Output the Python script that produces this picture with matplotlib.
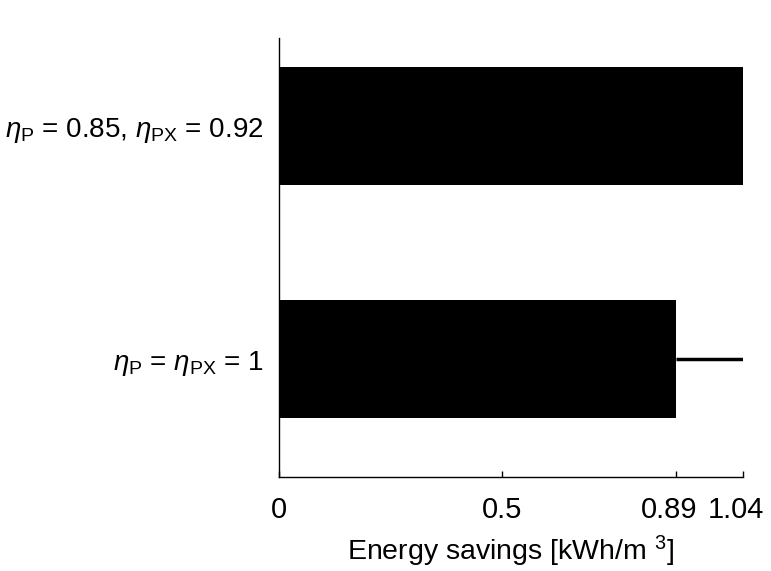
import matplotlib
matplotlib.use("Agg")
import matplotlib.pyplot as plt
from matplotlib.transforms import ScaledTranslation

categories = [r"$\eta_{\rm P}$ = $\eta_{\rm PX}$ = 1", r"$\eta_{\rm P}$ = 0.85, $\eta_{\rm PX}$ = 0.92"]
savings = [0.89, 1.04]
ideal_upper = 1.04
xticks = [0, 0.5, 0.89, 1.04]
xticklabels = ["0", "0.5", "0.89", "1.04"]

plt.rcParams["font.family"] = ["Liberation Sans", "DejaVu Sans"]
plt.rcParams["mathtext.fontset"] = "custom"
plt.rcParams["mathtext.rm"] = "Liberation Sans"
plt.rcParams["mathtext.it"] = "Liberation Sans:italic"
plt.rcParams["mathtext.bf"] = "Liberation Sans:bold"

fig = plt.figure(figsize=(7.71, 5.71), dpi=100)
ax = fig.add_axes([0.3619, 0.1646, 0.6018, 0.7689])

ypos = list(range(len(categories)))
ax.barh(ypos, savings, height=0.506, color="black")
ax.plot([savings[0], ideal_upper], [ypos[0], ypos[0]], color="black", lw=2.5, solid_capstyle="butt")

ax.set_xlim(0, 1.04)
ax.set_ylim(-0.506, 1.378)
ax.set_yticks(ypos)
ax.set_yticklabels(categories, fontsize=20)
ax.set_xticks(xticks)
ax.set_xticklabels(xticklabels, fontsize=21)
ax.tick_params(axis="y", length=0, pad=11)
ax.tick_params(axis="x", direction="in", length=4, width=1, pad=14)
ax.spines["top"].set_visible(False)
ax.spines["right"].set_visible(False)
ax.spines["left"].set_linewidth(1)
ax.spines["bottom"].set_linewidth(1)
ax.set_xlabel(r"Energy savings [kWh/m $^{3}$]", fontsize=20.5, labelpad=7)

shift = ScaledTranslation(-7 / 100, 0, fig.dpi_scale_trans)
for lab in ax.get_xticklabels()[2:]:
    lab.set_transform(lab.get_transform() + shift)

fig.savefig("out.png", dpi=100)
